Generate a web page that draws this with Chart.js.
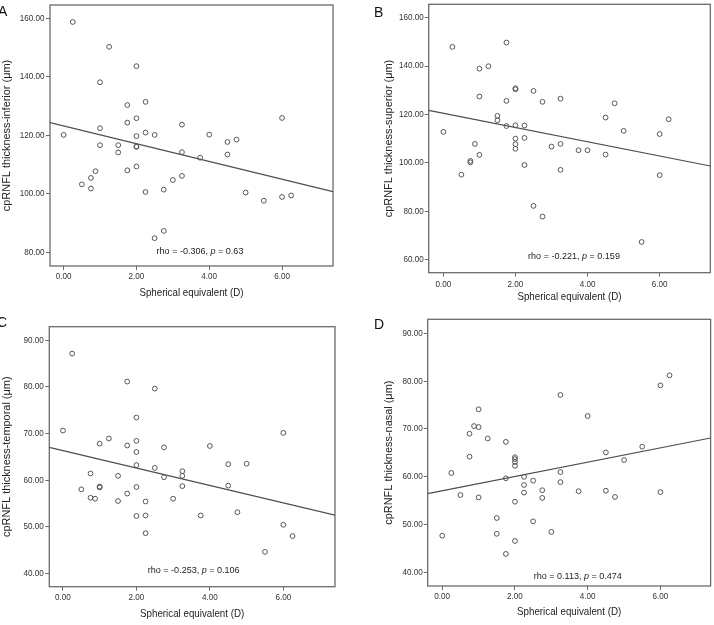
<!DOCTYPE html>
<html><head><meta charset="utf-8">
<script src="https://cdn.jsdelivr.net/npm/chart.js@4.4.0/dist/chart.umd.min.js"></script>
<style>
html,body{margin:0;padding:0;background:#fff;width:714px;height:625px;overflow:hidden;position:relative}
canvas{position:absolute}
</style></head><body>
<canvas id="cA" width="357" height="308" style="left:0;top:0"></canvas>
<canvas id="cB" width="357" height="308" style="left:357px;top:0"></canvas>
<canvas id="cC" width="357" height="317" style="left:0;top:308px"></canvas>
<canvas id="cD" width="357" height="317" style="left:357px;top:308px"></canvas>
<script>
// ---- data ----
const xTickValues = [0, 2, 4, 6];
const yTicksInferior = [80, 100, 120, 140, 160];
const yTicksSuperior = [60, 80, 100, 120, 140, 160];
const yTicksTemporal = [40, 50, 60, 70, 80, 90];
const yTicksNasal = [40, 50, 60, 70, 80, 90];

const seInferior = [0.25,1.25,2,1,2.25,1.75,2,6,1.75,3.25,1,0,2.25,2.5,4,2,4.75,4.5,1,1.5,2,2,1.5,3.25,4.5,3.75,0.875,1.75,2,3.25,0.75,3,0.5,0.75,2.75,2.25,5,5.5,6,6.25,2.75,2.5];
const inferior = [158.7,150.2,143.6,138.1,131.4,130.3,125.8,125.9,124.3,123.6,122.4,120.1,120.9,120.1,120.2,119.7,118.5,117.7,116.6,116.6,116.2,116.0,114.1,114.2,113.4,112.3,107.7,108.0,109.3,106.1,105.4,104.7,103.2,101.8,101.4,100.6,100.4,97.6,98.9,99.4,87.3,84.8];

const seSuperior = [0.25,1.75,1,1.25,2,2,2.5,1,3.25,1.75,2.75,4.75,1.5,1.5,6.25,4.5,1.75,2,2.25,0,5,6,2,2.25,2,2,0.875,3,3.25,3.75,4,1,4.5,0.75,0.75,2.25,0.5,3.25,6,2.5,2.75,5.5];
const superior = [147.9,149.7,138.9,139.9,130.8,130.4,129.7,127.4,126.5,125.6,125.2,124.6,119.4,117.6,118.0,118.7,115.2,115.5,115.4,112.8,113.2,111.9,110.0,110.3,107.7,105.8,107.8,106.7,107.8,105.2,105.2,103.3,103.4,100.8,100.2,99.1,95.1,97.1,94.9,82.2,77.8,67.3];

const seTemporal = [0.25,1.75,2.5,2,0,6,1.25,2,1,1.75,4,2.75,2,2,4.5,5,2.5,3.25,3.25,0.75,1.5,2.75,1,1,2,3.25,4.5,0.5,1.75,0.75,0.875,3,1.5,2.25,2,2.25,3.75,4.75,2.25,6,6.25,5.5];
const temporal = [87.1,81.1,79.6,73.4,70.6,70.1,68.9,68.4,67.8,67.4,67.3,67.0,66.0,63.2,63.4,63.5,62.6,61.9,60.9,61.4,60.9,60.6,58.6,58.4,58.5,58.7,58.8,58.0,57.1,56.2,56.0,56.0,55.5,55.4,52.3,52.4,52.4,53.1,48.6,50.4,48.0,44.6];

const seNasal = [6.25,6,3.25,1,4,0.875,1,0.75,1.25,1.75,5.5,4.5,0.75,2,2,2,2,5,0.25,3.25,1.75,2.25,2.5,3.25,2.25,0.5,1,2.25,2.75,2.75,3.75,4.5,4.75,6,2,1.5,2.5,1.5,3,0,2,1.75];
const nasal = [81.2,79.1,77.1,74.1,72.7,70.6,70.4,69.0,68.0,67.3,66.3,65.1,64.2,64.1,63.7,63.1,62.3,63.5,60.8,61.0,59.7,60.0,59.2,58.9,58.3,56.2,55.7,56.7,57.2,55.6,57.0,57.1,55.8,56.8,54.8,51.4,50.7,48.1,48.5,47.7,46.6,43.9];

const panelLetters = ['A', 'B', 'C', 'D'];
const yTitles = ['cpRNFL thickness-inferior (\u03bcm)', 'cpRNFL thickness-superior (\u03bcm)', 'cpRNFL thickness-temporal (\u03bcm)', 'cpRNFL thickness-nasal (\u03bcm)'];
const xTitle = 'Spherical equivalent (D)';
const lineIntercepts = [123.2, 120.5, 66.3, 57.1];
const lineSlopes = [-3.035, -2.944, -1.864, 1.491];
const rhoValues = ['-0.306', '-0.221', '-0.253', '0.113'];
const pValues = ['0.63', '0.159', '0.106', '0.474'];

// ---- layout / style ----
const FAMILY = '"Liberation Sans", Arial, sans-serif';
const RATIO = {'9': 0.9, '9.5': 0.95, '10.5': 0.93, '11.5': 0.95};
const panels = [
  {id:'cA', xs:seInferior, ys:inferior, yTicks:yTicksInferior, xMin:-0.375, xMax:7.4, yMin:75.3, yMax:164.5,
   padTop:5, padRight:24, yW:50, xH:42, yTickPad:1.5, yTitlePad:0, xTickPad:1.3, xTitlePadB:8.7, letter:[-2,16], note:[200,251.7]},
  {id:'cB', xs:seSuperior, ys:superior, yTicks:yTicksSuperior, xMin:-0.407, xMax:7.405, yMin:54.6, yMax:165.5,
   padTop:4.3, padRight:3.7, yW:71.7, xH:35.3, yTickPad:1, yTitlePad:24.8, xTickPad:2.9, xTitlePadB:4.4, letter:[17,17], note:[217,256]},
  {id:'cC', xs:seTemporal, ys:temporal, yTicks:yTicksTemporal, xMin:-0.372, xMax:7.407, yMin:37.14, yMax:92.86,
   padTop:18.7, padRight:22, yW:49.3, xH:38.3, yTickPad:1.5, yTitlePad:0.4, xTickPad:1.2, xTitlePadB:4.4, letter:[-3,19], note:[193.7,262]},
  {id:'cD', xs:seNasal, ys:nasal, yTicks:yTicksNasal, xMin:-0.40, xMax:7.38, yMin:37.2, yMax:92.9,
   padTop:11.3, padRight:2.7, yW:70.7, xH:39, yTickPad:1, yTitlePad:24.8, xTickPad:1.3, xTitlePadB:6.1, letter:[17,21], note:[220.8,268.7]}
];

function condense(ctx) {
  const ft = ctx.fillText.bind(ctx), mt = ctx.measureText.bind(ctx);
  const ratio = () => { const m = /([\d.]+)px/.exec(ctx.font); return m ? (RATIO[m[1]] || 1) : 1; };
  ctx.fillText = function (t, x, y, mw) {
    const r = ratio();
    if (r === 1) { return mw === undefined ? ft(t, x, y) : ft(t, x, y, mw); }
    ctx.save(); ctx.translate(x, y); ctx.scale(r, 1); ft(t, 0, 0); ctx.restore();
  };
  ctx.measureText = function (t) {
    const m = mt(t); const r = ratio();
    if (r === 1) return m;
    return {width: m.width * r, actualBoundingBoxAscent: m.actualBoundingBoxAscent, actualBoundingBoxDescent: m.actualBoundingBoxDescent,
      actualBoundingBoxLeft: m.actualBoundingBoxLeft * r, actualBoundingBoxRight: m.actualBoundingBoxRight * r};
  };
}

const panelPlugin = {
  id: 'panelDecor',
  beforeDatasetsDraw(chart, args, opts) {
    const a = chart.chartArea, ctx = chart.ctx;
    ctx.save(); ctx.strokeStyle = '#6a6a6a'; ctx.lineWidth = 1.3;
    ctx.strokeRect(a.left, a.top, a.right - a.left, a.bottom - a.top);
    ctx.restore();
  },
  afterDraw(chart, args, opts) {
    const ctx = chart.ctx;
    ctx.save();
    ctx.fillStyle = '#111'; ctx.textAlign = 'left'; ctx.textBaseline = 'alphabetic';
    ctx.font = '14px ' + FAMILY;
    ctx.fillText(opts.letter, opts.letterPos[0], opts.letterPos[1]);
    const parts = [{t: 'rho = ' + opts.rho + ', ', i: false}, {t: 'p', i: true}, {t: ' = ' + opts.p, i: false}];
    ctx.textBaseline = 'middle'; ctx.fillStyle = '#222';
    const w = parts.map(p => { ctx.font = (p.i ? 'italic ' : '') + '9.5px ' + FAMILY; return ctx.measureText(p.t).width; });
    let x = opts.notePos[0] - w.reduce((s, v) => s + v, 0) / 2;
    parts.forEach((p, k) => { ctx.font = (p.i ? 'italic ' : '') + '9.5px ' + FAMILY; ctx.fillText(p.t, x, opts.notePos[1]); x += w[k]; });
    ctx.restore();
  }
};

panels.forEach((P, i) => {
  const canvas = document.getElementById(P.id);
  condense(canvas.getContext('2d'));
  const pts = P.xs.map((v, k) => ({x: v, y: P.ys[k]}));
  const line = [P.xMin, P.xMax].map(v => ({x: v, y: lineIntercepts[i] + lineSlopes[i] * v}));
  new Chart(canvas, {
    type: 'scatter',
    data: {datasets: [
      {type: 'line', data: line, borderColor: '#4d4d4d', borderWidth: 1.2, pointRadius: 0, fill: false, order: 2},
      {data: pts, pointRadius: 2.4, pointHoverRadius: 2.4, pointBorderWidth: 1, borderColor: '#555', backgroundColor: 'rgba(255,255,255,0)', order: 1}
    ]},
    options: {
      responsive: false, animation: false, devicePixelRatio: 1,
      layout: {padding: {top: P.padTop, right: P.padRight, left: 0, bottom: 0}},
      plugins: {legend: {display: false}, tooltip: {enabled: false},
        panelDecor: {letter: panelLetters[i], letterPos: P.letter, rho: rhoValues[i], p: pValues[i], notePos: P.note}},
      scales: {
        x: {type: 'linear', position: 'bottom', min: P.xMin, max: P.xMax,
          afterBuildTicks: s => { s.ticks = xTickValues.map(v => ({value: v})); },
          afterFit: s => { s.height = P.xH; s.paddingLeft = 0; s.paddingRight = 0; },
          grid: {display: true, drawOnChartArea: false, drawTicks: true, tickLength: 4, color: '#6a6a6a', lineWidth: 1},
          border: {display: false},
          ticks: {padding: P.xTickPad, color: '#333', font: {family: FAMILY, size: 9}, maxRotation: 0, autoSkip: false,
            callback: v => Number(v).toFixed(2)},
          title: {display: true, text: xTitle, color: '#222', font: {family: FAMILY, size: 10.5}, padding: {top: 0, bottom: P.xTitlePadB}}
        },
        y: {type: 'linear', position: 'left', min: P.yMin, max: P.yMax,
          afterBuildTicks: s => { s.ticks = P.yTicks.map(v => ({value: v})); },
          afterFit: s => { s.width = P.yW; s.paddingTop = 0; s.paddingBottom = 0; },
          grid: {display: true, drawOnChartArea: false, drawTicks: true, tickLength: 4, color: '#6a6a6a', lineWidth: 1},
          border: {display: false},
          ticks: {padding: P.yTickPad, color: '#333', font: {family: FAMILY, size: 9}, autoSkip: false,
            callback: v => Number(v).toFixed(2)},
          title: {display: true, text: yTitles[i], color: '#222', font: {family: FAMILY, size: 11.5}, padding: {top: P.yTitlePad, bottom: 0}}
        }
      }
    },
    plugins: [panelPlugin]
  });
});
</script>
</body></html>
